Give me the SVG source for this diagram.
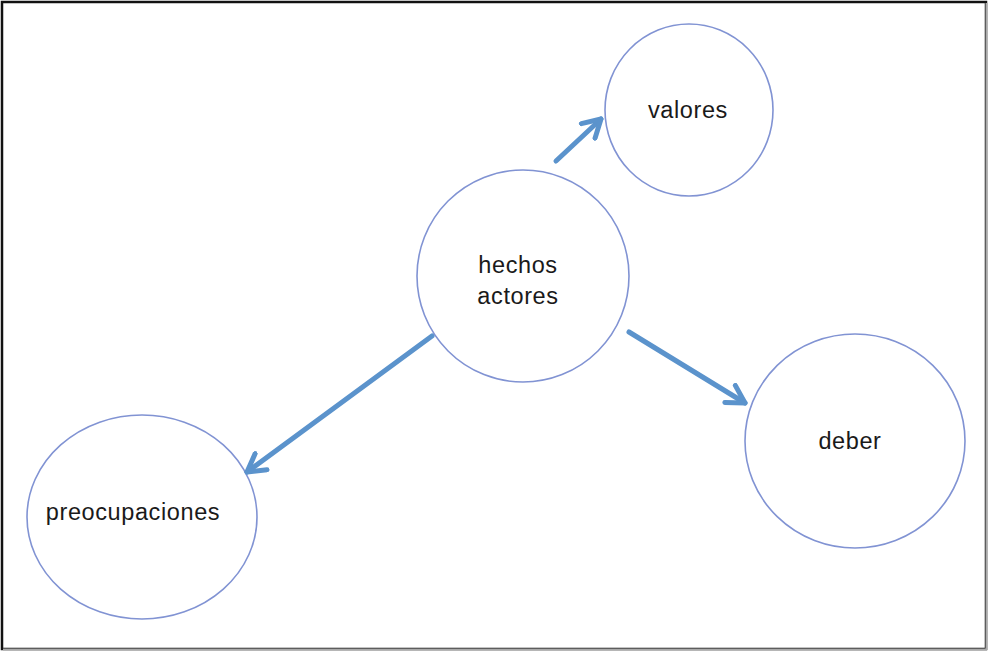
<svg xmlns="http://www.w3.org/2000/svg" width="988" height="651" viewBox="0 0 988 651">
<style>
.node ellipse{fill:#fff;stroke:#8193d3;stroke-width:1.6}
.node text{font-family:"Liberation Sans",Arial,sans-serif;font-size:23.5px;letter-spacing:0.6px;fill:#1a1a1a;text-anchor:middle}
.edge{stroke:#5b93cc;stroke-width:5;fill:none;stroke-linecap:round}
</style>
<defs>
<marker id="ah" viewBox="0 0 10 10" refX="8" refY="5" markerWidth="5" markerHeight="5" orient="auto" markerUnits="strokeWidth">
<polyline points="1,1 8,5 1,9" fill="none" stroke="#5b93cc" stroke-width="2" stroke-linecap="round" stroke-linejoin="round"/>
</marker>
</defs>
<rect x="0" y="0" width="988" height="651" fill="#fff"/>
<rect x="2" y="2" width="984" height="647" fill="none" stroke="#111" stroke-width="2.5"/>
<line x1="3" y1="649.5" x2="987" y2="649.5" stroke="#aaa" stroke-width="2"/>
<line x1="986.5" y1="3" x2="986.5" y2="650" stroke="#aaa" stroke-width="2"/>
<g id="valores" class="node"><ellipse cx="689" cy="110" rx="84" ry="86"/><text x="688" y="118">valores</text></g>
<g id="hechos" class="node"><ellipse cx="523" cy="276" rx="106" ry="106"/><text x="518" y="273">hechos</text><text x="518" y="304">actores</text></g>
<g id="deber" class="node"><ellipse cx="855" cy="441" rx="110" ry="107"/><text x="850" y="449">deber</text></g>
<g id="preocupaciones" class="node"><ellipse cx="142" cy="517" rx="115" ry="102"/><text x="133" y="520">preocupaciones</text></g>
<g id="connectors">
<line class="edge" x1="556" y1="161" x2="601" y2="119" marker-end="url(#ah)"/>
<line class="edge" x1="432" y1="336" x2="247" y2="472" marker-end="url(#ah)"/>
<line class="edge" x1="629" y1="332" x2="745" y2="403" marker-end="url(#ah)"/>
</g>
</svg>
